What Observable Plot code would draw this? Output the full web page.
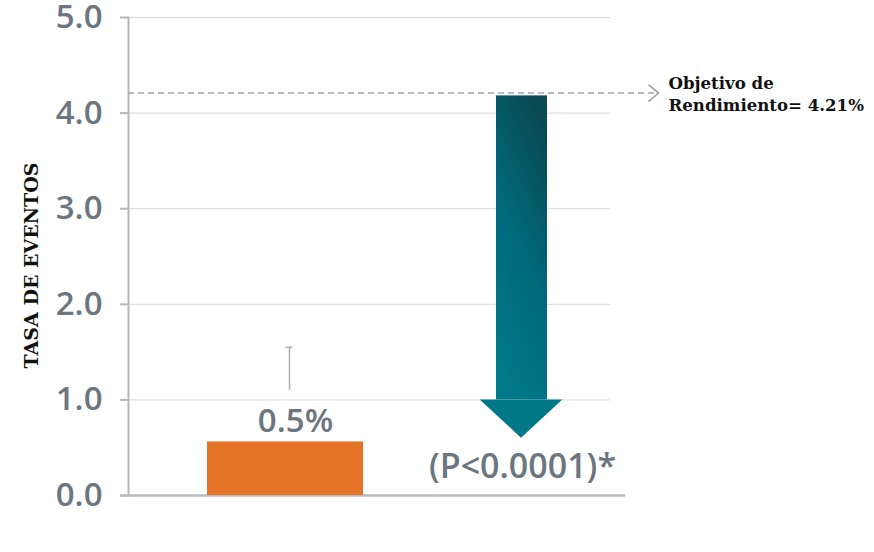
<!DOCTYPE html>
<html><head><meta charset="utf-8">
<script src="https://cdn.jsdelivr.net/npm/d3@7"></script>
<script src="https://cdn.jsdelivr.net/npm/@observablehq/plot@0.6"></script>
<style>
body{margin:0;background:#fff}
</style>
</head><body><div id="chart"></div>
<script>
// ---- data ----
const categories = ["Control", "Nuevo"];
const barValues = [0.56];            // orange bar (Control)
const barLabels = ["0.5%"];
const errorLow = [1.1];
const errorHigh = [1.55];
const arrowTop = [4.18];             // arrow (Nuevo): top of shaft
const arrowHeadBase = [1.0];         // where the head starts
const arrowTip = [0.6];              // tip of the head
const arrowLabel = ["(P<0.0001)*"];
const targetValue = [4.21];
const targetLabel = ["Objetivo de\nRendimiento= 4.21%"];
const yTicks = [0, 1, 2, 3, 4, 5];
const yTickLabels = ["0.0", "1.0", "2.0", "3.0", "4.0", "5.0"];
const yLabel = ["TASA DE EVENTOS"];

const barData = barValues.map((v, i) => ({cat: categories[0], value: v, lo: errorLow[i], hi: errorHigh[i], label: barLabels[i]}));
const arrowData = arrowTop.map((t, i) => ({cat: categories[1], top: t, base: arrowHeadBase[i], tip: arrowTip[i], label: arrowLabel[i]}));

const grey = "#6b7680";
const slab = "'DejaVu Serif', serif";

const chevron = {draw(ctx) { ctx.moveTo(-5, -8.5); ctx.lineTo(5, 0); ctx.lineTo(-5, 8.5); }};

const plot = Plot.plot({
  width: 874, height: 552,
  marginLeft: 128, marginRight: 264, marginTop: 17, marginBottom: 57,
  style: {fontFamily: "'Open Sans', sans-serif", background: "#fff", overflow: "visible"},
  x: {type: "band", domain: categories, paddingInner: 0.338, paddingOuter: 0.186, align: 0.875, axis: null},
  y: {domain: [0, 5], axis: null},
  marks: [
    Plot.gridY(yTicks, {stroke: "#d6d9dc", strokeOpacity: 1, strokeWidth: 1}),
    Plot.axisY(yTicks, {tickFormat: (d) => yTickLabels[yTicks.indexOf(d)], tickSize: 8, tickPadding: 18,
      fontSize: 33, fontWeight: 600, stroke: "#b3b8bd", strokeWidth: 2, fill: grey, label: null}),
    Plot.frame({anchor: "left", stroke: "#b3b8bd", strokeWidth: 2}),
    Plot.ruleY([0], {stroke: "#b8bcc0", strokeWidth: 2.5, insetLeft: -8, insetRight: -15}),
    Plot.ruleY(targetValue, {stroke: "#9ea3a8", strokeWidth: 1.7, strokeDasharray: "6,4", insetRight: -46}),
    Plot.dot(targetValue, {y: (d) => d, frameAnchor: "right", dx: 43, symbol: chevron, stroke: "#9ea3a8", strokeWidth: 1.7, fill: "none"}),
    Plot.text(targetLabel, {y: targetValue[0], frameAnchor: "right", dx: 58, textAnchor: "start", lineHeight: 1.35,
      fontSize: 16.6, fontWeight: "bold", fontFamily: slab, fill: "#111"}),
    // orange bar
    Plot.barY(barData, {x: "cat", y: "value", fill: "#e57428"}),
    Plot.ruleX(barData, {x: "cat", y1: "lo", y2: "hi", stroke: "#a9aeb3", strokeWidth: 1.5, dx: 4}),
    Plot.tickY(barData, {x: "cat", y: "hi", stroke: "#a9aeb3", strokeWidth: 1.5, insetLeft: 74.5, insetRight: 74.5, dx: 4}),
    Plot.text(barData, {x: "cat", y: "value", text: "label", lineAnchor: "bottom", dy: -10, dx: 10, fontSize: 33, fontWeight: 600, fill: grey}),
    // arrow shaft
    Plot.barY(arrowData, {x: "cat", y1: "base", y2: "top", insetLeft: 53, insetRight: 52, fill: "url(#tealGrad)"}),
    // arrow head
    Plot.dot(arrowData, {x: "cat", y: "base", render: (index, scales, values, dimensions, context) => {
      const g = d3.create("svg:g");
      const bw = typeof scales.x.bandwidth === "function" ? scales.x.bandwidth() : scales.x.bandwidth;
      for (const i of index) {
        const d = arrowData[i];
        const cx = scales.x(d.cat) + bw / 2;
        const hw = bw * 0.265;
        const yb = scales.y(d.base), yt = scales.y(d.tip);
        g.append("path").attr("d", `M${cx - hw},${yb}L${cx + hw},${yb}L${cx},${yt}Z`).attr("fill", "#007888");
      }
      return g.node();
    }}),
    Plot.text(arrowData, {x: "cat", y: 0, text: "label", lineAnchor: "bottom", dy: -18, dx: 1, fontSize: 34, fontWeight: 600, fill: grey}),
    // y label
    Plot.text(yLabel, {frameAnchor: "left", textAnchor: "middle", rotate: -90, dx: -97, dy: 9, fontSize: 19, fontWeight: "bold", fontFamily: slab, fill: "#111"})
  ]
});

d3.select(plot).insert("defs", ":first-child").html(
  `<linearGradient id="tealGrad" x1="0.7" y1="0" x2="0.3" y2="1">
     <stop offset="0" stop-color="#0a4853"/>
     <stop offset="0.5" stop-color="#00697a"/>
     <stop offset="1" stop-color="#007a8a"/>
   </linearGradient>`);

document.getElementById("chart").appendChild(plot);
</script>
</body></html>
